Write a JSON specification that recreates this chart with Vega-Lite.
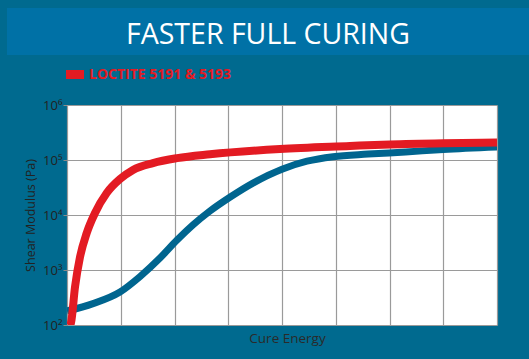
{
  "$schema": "https://vega.github.io/schema/vega-lite/v6.json",
  "background": "#006a8f",
  "padding": {"left": 7, "right": 0, "top": 8, "bottom": 14},
  "spacing": 10,
  "resolve": {"scale": {"color": "independent", "x": "independent"}, "legend": {"color": "independent"}},
  "config": {"font": "Open Sans"},
  "datasets": {
    "curves": [
      {"series": "LOCTITE 5191 & 5193", "energy": 0.04, "modulus": 95},
      {"series": "LOCTITE 5191 & 5193", "energy": 0.074, "modulus": 109},
      {"series": "LOCTITE 5191 & 5193", "energy": 0.149, "modulus": 492},
      {"series": "LOCTITE 5191 & 5193", "energy": 0.242, "modulus": 1720},
      {"series": "LOCTITE 5191 & 5193", "energy": 0.367, "modulus": 4710},
      {"series": "LOCTITE 5191 & 5193", "energy": 0.521, "modulus": 10900},
      {"series": "LOCTITE 5191 & 5193", "energy": 0.739, "modulus": 25100},
      {"series": "LOCTITE 5191 & 5193", "energy": 0.986, "modulus": 45000},
      {"series": "LOCTITE 5191 & 5193", "energy": 1.228, "modulus": 66000},
      {"series": "LOCTITE 5191 & 5193", "energy": 1.6, "modulus": 88000},
      {"series": "LOCTITE 5191 & 5193", "energy": 2.047, "modulus": 108000},
      {"series": "LOCTITE 5191 & 5193", "energy": 2.66, "modulus": 127000},
      {"series": "LOCTITE 5191 & 5193", "energy": 3.963, "modulus": 158500},
      {"series": "LOCTITE 5191 & 5193", "energy": 5.265, "modulus": 179700},
      {"series": "LOCTITE 5191 & 5193", "energy": 6.01, "modulus": 192000},
      {"series": "LOCTITE 5191 & 5193", "energy": 7.0, "modulus": 202000},
      {"series": "LOCTITE 5191 & 5193", "energy": 8.0, "modulus": 208000},
      {"series": "Competitor", "energy": 0.0, "modulus": 180},
      {"series": "Competitor", "energy": 0.484, "modulus": 245},
      {"series": "Competitor", "energy": 0.986, "modulus": 398},
      {"series": "Competitor", "energy": 1.358, "modulus": 760},
      {"series": "Competitor", "energy": 1.73, "modulus": 1650},
      {"series": "Competitor", "energy": 2.047, "modulus": 3500},
      {"series": "Competitor", "energy": 2.344, "modulus": 6600},
      {"series": "Competitor", "energy": 2.66, "modulus": 11800},
      {"series": "Competitor", "energy": 3.03, "modulus": 21000},
      {"series": "Competitor", "energy": 3.46, "modulus": 38000},
      {"series": "Competitor", "energy": 4.0, "modulus": 68000},
      {"series": "Competitor", "energy": 4.465, "modulus": 95000},
      {"series": "Competitor", "energy": 4.95, "modulus": 115000},
      {"series": "Competitor", "energy": 5.6, "modulus": 128000},
      {"series": "Competitor", "energy": 6.3, "modulus": 140000},
      {"series": "Competitor", "energy": 7.0, "modulus": 155000},
      {"series": "Competitor", "energy": 8.0, "modulus": 172000}
    ],
    "heading": [{"title": "FASTER FULL CURING", "start": 0, "end": 1}]
  },
  "vconcat": [
    {
      "width": 402,
      "height": 47,
      "view": {"stroke": null},
      "data": {"name": "heading"},
      "layer": [
        {
          "mark": {"type": "rect", "color": "#0071a6", "clip": false},
          "encoding": {
            "x": {"field": "start", "type": "quantitative", "scale": {"domain": [0, 1], "range": [-60, 462]}, "axis": null},
            "x2": {"field": "end"}
          }
        },
        {
          "mark": {"type": "text", "color": "white", "font": "Open Sans", "fontSize": 28.5, "baseline": "middle", "dy": 3},
          "encoding": {"text": {"field": "title"}}
        }
      ]
    },
    {
      "width": 430,
      "height": 220,
      "view": {"fill": "white", "stroke": null},
      "data": {"name": "curves"},
      "encoding": {
        "x": {
          "field": "energy", "type": "quantitative",
          "scale": {"domain": [0, 8], "nice": false, "zero": false},
          "axis": {
            "values": [0, 1, 2, 3, 4, 5, 6, 7, 8],
            "labels": false, "ticks": false, "domain": false,
            "grid": true, "gridColor": "#9a9a9a", "gridWidth": 1.2,
            "title": "Cure Energy", "titlePadding": 6, "titleX": 220,
            "titleFont": "Open Sans", "titleFontSize": 13.5, "titleFontWeight": "normal", "titleColor": "#2a2a2a"
          }
        },
        "y": {
          "field": "modulus", "type": "quantitative",
          "scale": {"type": "log", "domain": [100, 1000000], "nice": false},
          "axis": {
            "values": [100, 1000, 10000, 100000, 1000000],
            "labelExpr": "'10' + ['⁰','¹','²','³','⁴','⁵','⁶'][round(log(datum.value)/LN10)]",
            "grid": true, "gridColor": "#9a9a9a", "gridWidth": 1.2,
            "domain": false, "ticks": true, "tickColor": "#8a8a8a", "tickSize": 4,
            "labelColor": "#222222", "labelFont": "Open Sans", "labelFontSize": 13, "labelPadding": 1,
            "title": "Shear Modulus (Pa)", "titleFont": "Open Sans", "titleFontSize": 12.5,
            "titleFontWeight": "normal", "titleColor": "#222222", "titlePadding": 5
          }
        },
        "color": {
          "field": "series", "type": "nominal",
          "scale": {"domain": ["LOCTITE 5191 & 5193", "Competitor"], "range": ["#e31b23", "#00658f"]},
          "legend": {
            "orient": "none", "legendX": -1, "legendY": -39.5, "title": null, "padding": 0,
            "values": ["LOCTITE 5191 & 5193"],
            "symbolType": "M-1,-0.5H1V0.5H-1Z", "symbolSize": 324,
            "labelColor": "#e31b23", "labelFont": "Open Sans", "labelFontWeight": "bold",
            "labelFontSize": 14, "labelOffset": 5,
            "encode": {"symbols": {"update": {"fill": {"value": "#e31b23"}, "stroke": {"value": "#e31b23"}, "strokeWidth": {"value": 0}}}}
          }
        }
      },
      "layer": [
        {
          "transform": [{"filter": "datum.series === 'Competitor'"}],
          "mark": {"type": "line", "strokeWidth": 7, "interpolate": "monotone", "clip": true}
        },
        {
          "transform": [{"filter": "datum.series === 'LOCTITE 5191 & 5193'"}],
          "mark": {"type": "line", "strokeWidth": 8, "interpolate": "monotone", "clip": true}
        }
      ]
    }
  ]
}
